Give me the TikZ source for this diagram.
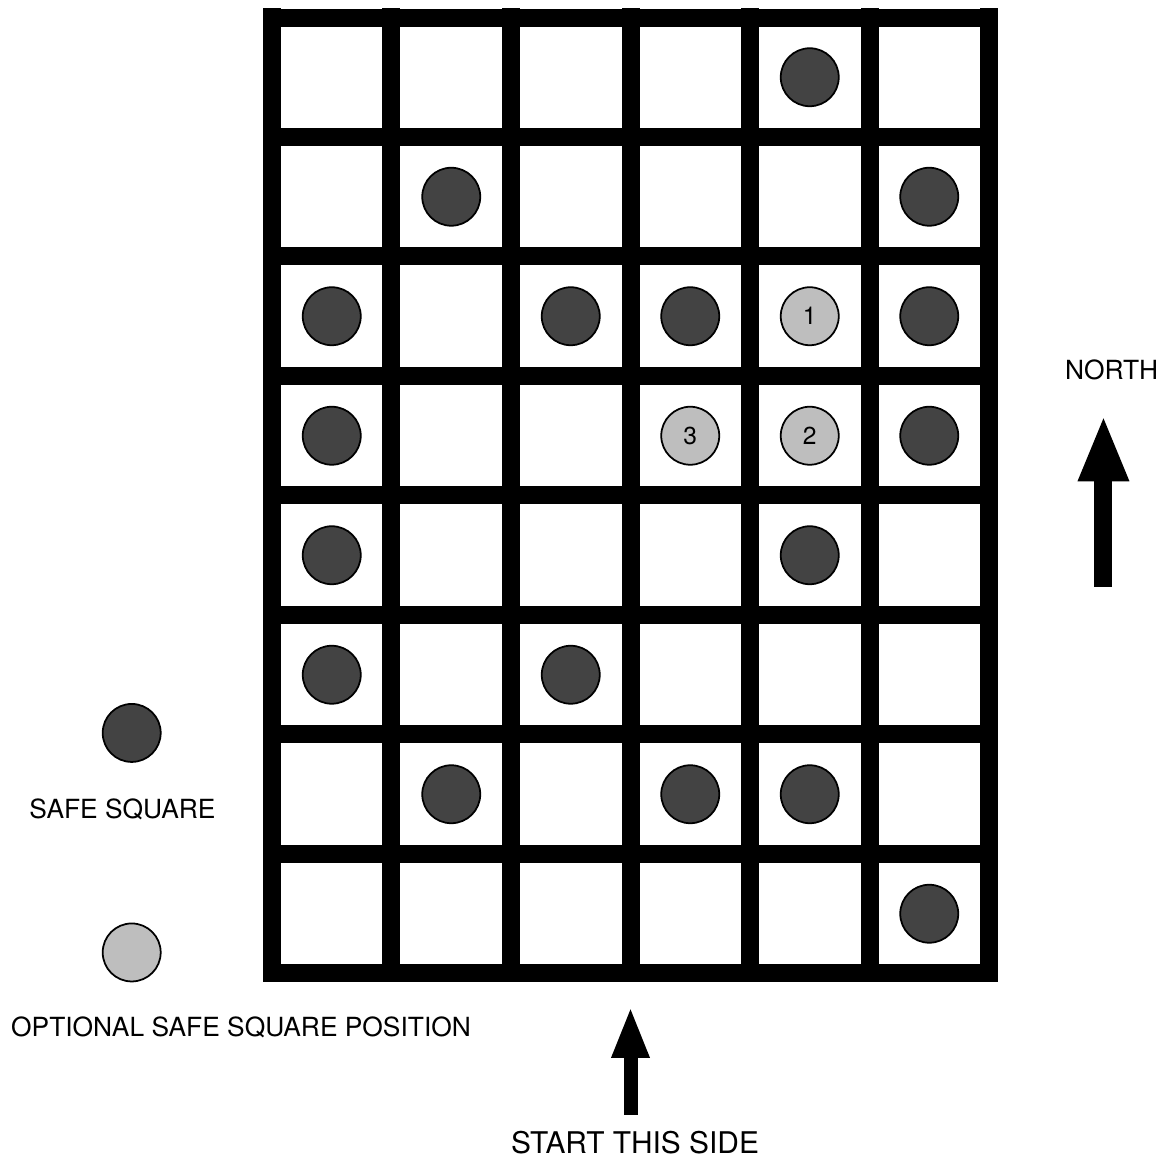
\documentclass[tikz,border=0pt]{standalone}
\usepackage{fontspec}
\setmainfont{TeX Gyre Heros}
\usepackage{tikz}
\usetikzlibrary{arrows.meta}

\definecolor{safedark}{HTML}{434343}
\definecolor{safelight}{HTML}{BEBEBE}

\begin{document}
\begin{tikzpicture}[x=2.39cm, y=2.39cm,
    board/.style ={draw=black, line width=0.36cm, line cap=rect,
      xstep=2.39cm, ystep=2.39cm},
    safe/.style ={circle, draw=black, line width=1pt, fill=safedark,
      minimum size=1.16cm, inner sep=0pt},
    optional/.style ={safe, fill=safelight, font=\fontsize{14}{16}\selectfont},
    label_text/.style ={font=\fontsize{15}{18}\selectfont, anchor=base, inner sep=0pt},
    north_arrow/.style ={draw, line width=0.36cm,
      -{Triangle[width=1.04cm, length=1.26cm, line width=0pt]}},
    start_arrow/.style ={draw, line width=0.28cm,
      -{Triangle[width=0.78cm, length=0.97cm, line width=0pt]}}]
    \useasboundingbox (-5.44cm,-3.71cm) rectangle (17.9cm,19.47cm);
    % the board - 6 columns, 8 rows
    \draw[board] (0,0) grid (6,8);
    % safe squares (row from top / column from left)
    \foreach \r/\c in {1/5, 2/2, 2/6, 3/1, 3/3, 3/4, 3/6, 4/1, 4/6,
      5/1, 5/5, 6/1, 6/3, 7/2, 7/4, 7/5, 8/6}
      \node[safe] (safe-\r-\c) at ({\c-0.5},{8.5-\r}) {};
    % optional safe square positions
    \foreach \r/\c/\n in {3/5/1, 4/5/2, 4/4/3}
      \node[optional] (opt-\n) at ({\c-0.5},{8.5-\r}) {\n};
    % legend
    \node[safe] (key_safe) at (-1.174,2.013) {};
    \node[label_text] (key_safe_text) at (-1.251,1.299) {SAFE SQUARE};
    \node[optional] (key_opt) at (-1.174,0.176) {};
    \node[label_text] (key_opt_text) at (-0.259,-0.529) {OPTIONAL SAFE SQUARE POSITION};
    % north arrow
    \coordinate (north_tail) at (6.958,3.237);
    \coordinate (north_tip) at (6.958,4.646);
    \path[north_arrow] (north_tail) -- (north_tip);
    \node[label_text] (north_text) at (7.027,4.972) {NORTH};
    % start arrow
    \coordinate (start_tail) at (3,-1.184);
    \coordinate (start_tip) at (3,-0.300);
    \path[start_arrow] (start_tail) -- (start_tip);
    \node[label_text, font=\fontsize{17}{20}\selectfont] (start_text)
      at (3.038,-1.505) {START THIS SIDE};
\end{tikzpicture}
\end{document}
